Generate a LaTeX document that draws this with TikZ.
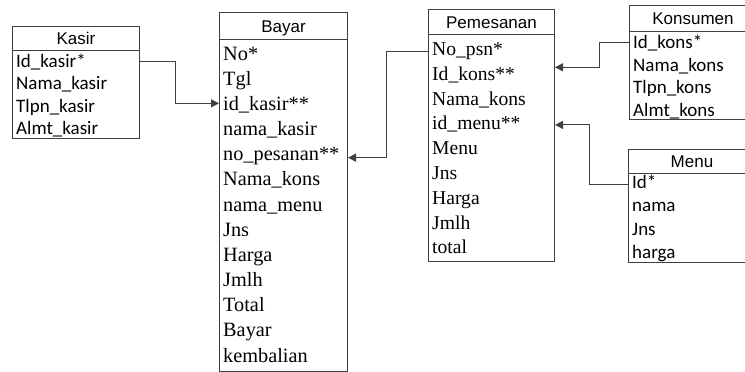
\documentclass[tikz,border=0pt]{standalone}
\usepackage{fontspec}
\usetikzlibrary{arrows.meta}
\newfontfamily\serf{Liberation Serif}
\newfontfamily\calf{Carlito}
\newfontfamily\arf{Liberation Sans}
\definecolor{linecol}{gray}{0.25}
\tikzset{
  box/.style={draw=linecol, line width=1pt, inner sep=0pt, anchor=north west},
  hdr/.style={font=\arf\fontsize{17}{20}\selectfont, text height=13pt, text depth=1pt, minimum width=127pt},
  fs/.style={font=\serf\fontsize{20.3}{24}\selectfont, text height=15pt, text depth=1pt, inner xsep=4pt, inner ysep=0pt, anchor=west},
  fc/.style={font=\calf\fontsize{19}{22}\selectfont, text height=14pt, text depth=1pt, inner xsep=4pt, inner ysep=0pt, anchor=west},
  conn/.style={draw=linecol, line width=1pt, -{Triangle[length=8pt,width=8pt]}},
}
\begin{document}
\begin{tikzpicture}[x=1pt,y=-1pt]
\useasboundingbox (0,0) rectangle (745,372);
\clip (0,0) rectangle (745,372);
% Kasir
\node[box, hdr, minimum height=24pt] (kasirh) at (12,26) {Kasir};
\node[box, minimum width=127pt, minimum height=88pt] (kasirb) at (12,50) {};
\foreach \t [count=\i] in {Id\_kasir*, Nama\_kasir, Tlpn\_kasir, Almt\_kasir}
  \node[fc] (k\i) at (12,{61+22.33*(\i-1)}) {\t};
% Bayar
\node[box, hdr, minimum width=128pt, minimum height=27pt] (bayarh) at (219,12) {Bayar};
\node[box, minimum width=128pt, minimum height=332pt] (bayarb) at (219,39) {};
\foreach \t [count=\i] in {No*, Tgl, id\_kasir**, nama\_kasir, no\_pesanan**, Nama\_kons, nama\_menu, Jns, Harga, Jmlh, Total, Bayar, kembalian}
  \node[fs] (b\i) at (219,{53+25.17*(\i-1)}) {\t};
% Pemesanan
\node[box, hdr, minimum width=126pt, minimum height=25pt] (pemh) at (428,9) {Pemesanan};
\node[box, minimum width=126pt, minimum height=227pt] (pemb) at (428,34) {};
\foreach \t [count=\i] in {No\_psn*, Id\_kons**, Nama\_kons, id\_menu**, Menu, Jns, Harga, Jmlh, total}
  \node[fs, font=\serf\fontsize{19.6}{23}\selectfont] (p\i) at (428,{48.5+24.8*(\i-1)}) {\t};
% Konsumen
\node[box, hdr, minimum height=26pt] (konh) at (629,5) {Konsumen};
\node[box, minimum width=127pt, minimum height=88pt] (konb) at (629,31) {};
\foreach \t [count=\i] in {Id\_kons*, Nama\_kons, Tlpn\_kons, Almt\_kons}
  \node[fc] (c\i) at (629,{42+22.67*(\i-1)}) {\t};
% Menu
\node[box, hdr, minimum height=24pt] (menuh) at (628,149) {Menu};
\node[box, minimum width=127pt, minimum height=89pt] (menub) at (628,173) {};
\foreach \t [count=\i] in {Id*, nama, Jns, harga}
  \node[fc] (m\i) at (628,{182+23.33*(\i-1)}) {\t};
% connectors
\path (k1 -| kasirb.east) coordinate (k1e);
\draw[conn] (k1e) -- ++(35,0) |- (b3.west);
\path (b5 -| bayarb.east) ++(0,4) coordinate (b5e);
\draw[conn] ([yshift=-2.5pt]p1.west) -- ++(-42,0) |- (b5e);
\path (p2 -| pemb.east) ++(0,-6) coordinate (p2e);
\draw[conn] (c1.west) -- ++(-30,0) |- (p2e);
\path (p4 -| pemb.east) ++(0,2) coordinate (p4e);
\draw[conn] ([yshift=-2pt]m1.west) -- ++(-39,0) |- (p4e);
\end{tikzpicture}
\end{document}
